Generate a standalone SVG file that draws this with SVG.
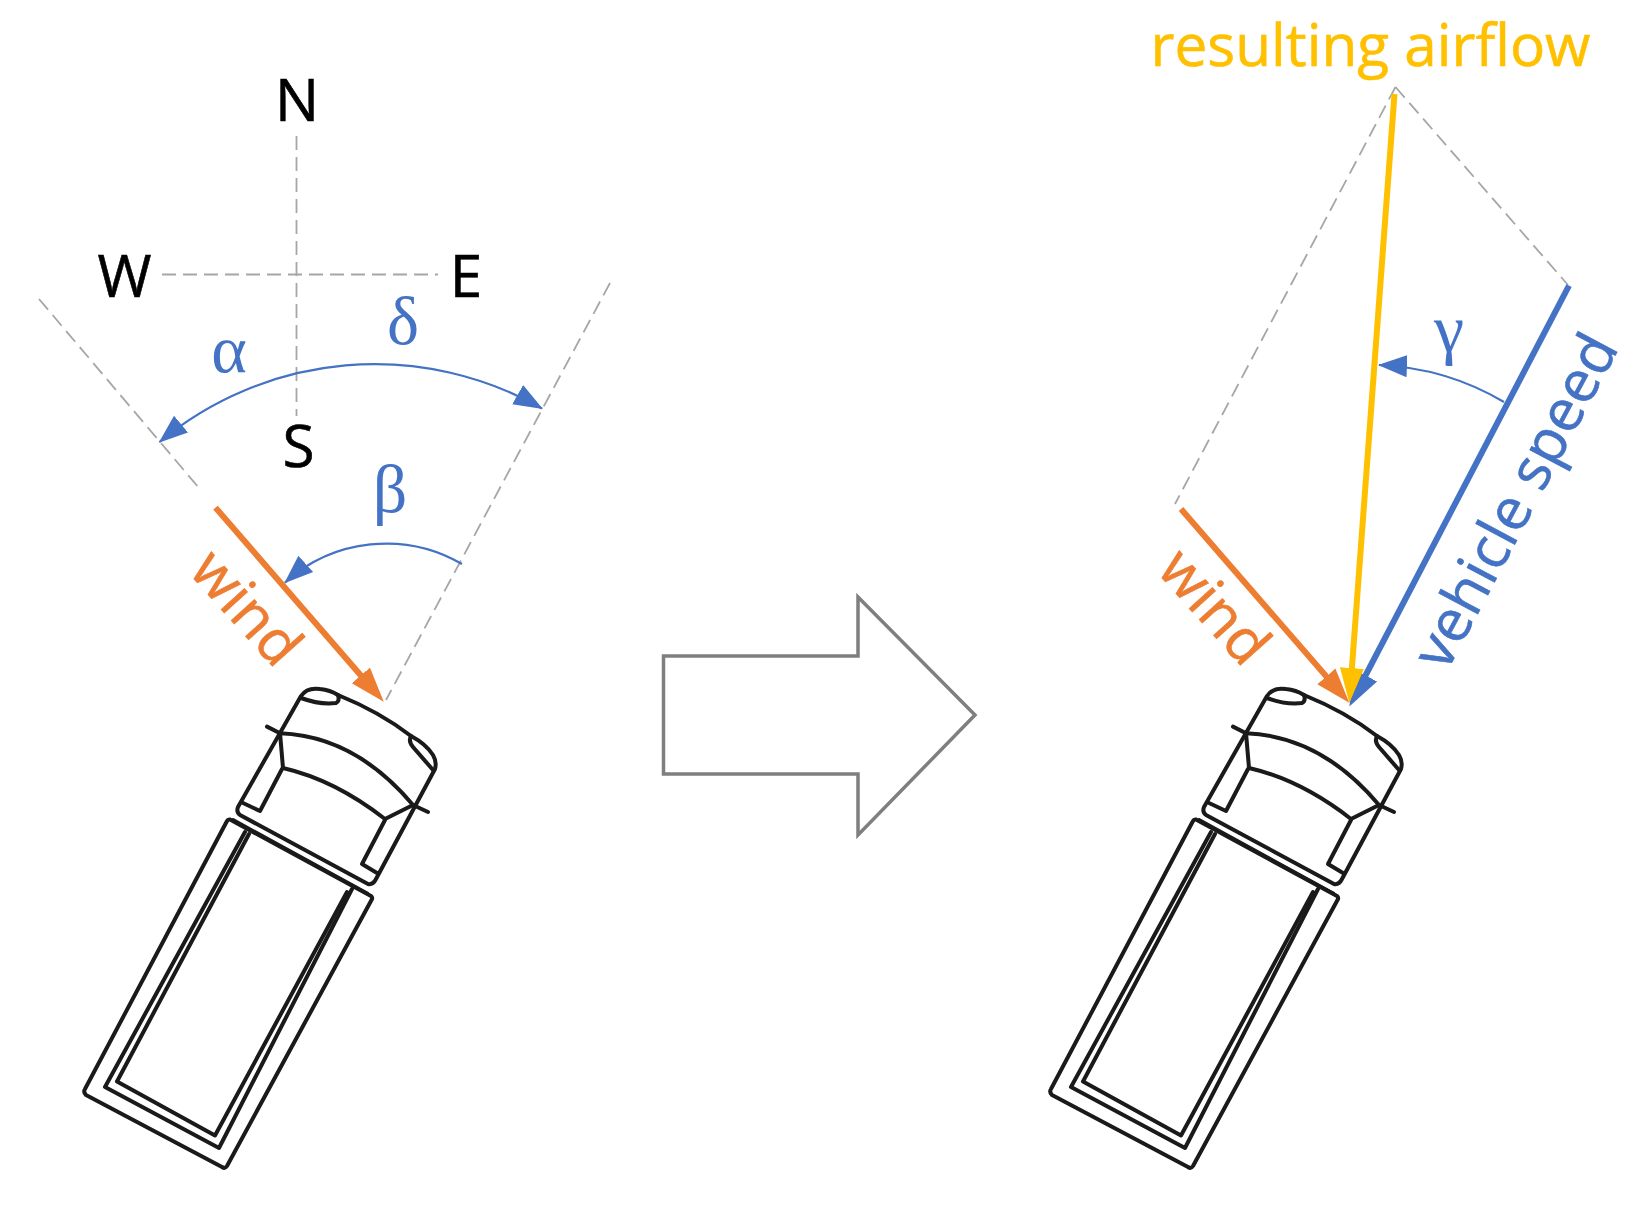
<svg xmlns="http://www.w3.org/2000/svg" xmlns:xlink="http://www.w3.org/1999/xlink" width="1639" height="1209" viewBox="0 0 1639 1209">
<style>
.lbl{font-family:"Open Sans","Noto Sans",sans-serif;font-size:58.5px;stroke-width:.6px}
.k{fill:#000;stroke:#000}
.o{fill:#ED7D31;stroke:#ED7D31}
.b{fill:#4472C4;stroke:#4472C4}
.y{fill:#FFC000;stroke:#FFC000}
.gr{font-family:"Liberation Serif",serif;font-size:68px;fill:#4472C4}
.d{stroke:#A6A6A6;stroke-width:1.8;stroke-dasharray:14 7;fill:none}
.ar{stroke:#4472C4;stroke-width:2.2;fill:none}
.t{fill:none;stroke:#1a1a1a;stroke-width:4;stroke-linejoin:round;stroke-linecap:round}
</style>
<defs>
<marker id="mo" markerUnits="userSpaceOnUse" markerWidth="36" markerHeight="26" refX="14" refY="13" orient="auto"><path d="M0 1L35 13L0 25z" fill="#ED7D31"/></marker>
<marker id="my" markerUnits="userSpaceOnUse" markerWidth="36" markerHeight="26" refX="15" refY="13" orient="auto"><path d="M0 1L35 13L0 25z" fill="#FFC000"/></marker>
<marker id="mb" markerUnits="userSpaceOnUse" markerWidth="36" markerHeight="28" refX="12" refY="14" orient="auto"><path d="M0 1L35 14L0 27z" fill="#4472C4"/></marker>
<marker id="ma" markerUnits="userSpaceOnUse" markerWidth="30" markerHeight="24" refX="28" refY="12" orient="auto-start-reverse"><path d="M0 1L29 12L0 23z" fill="#4472C4"/></marker>
<g id="truck" class="t">
<path d="M230 819.5L371 896Q373 898 371.5 900L227 1166Q225 1169 222 1167L86 1095Q83 1092 85 1089L227 821Q228 819 230 819.5z"/>
<path d="M245 832L105 1087L219 1148L352 889"/>
<path d="M249 834L117 1081.5L215 1135.5L347 892"/>
<path d="M238 807L301 696Q307 687 320 689Q330 690 338 695Q380 712 411 736Q426 744 433 755Q437 762 435 769L376 879Q373 885 368 884L240 815Q236 812 238 807z"/>
<path d="M301 698Q320 705 336 703Q340 701 338 695"/>
<path d="M411 736Q408 741 413 747L433 770"/>
<path d="M267 726.6L280 733.3Q355 736 413 805L428 812"/>
<path d="M280 733L283 768Q335 780 385 819L413 805"/>
<path d="M282 769L260 811L243 803"/>
<path d="M385 820L362 864L377 873"/>
<path d="M233 819L368 893" stroke-width="2"/>
</g>
</defs>
<rect width="1639" height="1209" fill="#fff"/>
<g id="connectors">
<path class="d" d="M296.5 136V416"/>
<path class="d" d="M162 274.5H438" stroke-width="2.5"/>
<path class="d" d="M39 299L199 488"/>
<path class="d" d="M610 283L386 700"/>
<path class="d" d="M1395.5 87L1175 504"/>
<path class="d" d="M1395.5 87L1568 285"/>
<path class="ar" d="M159.5 442A337 337 0 0 1 542 408.5" marker-start="url(#ma)" marker-end="url(#ma)"/>
<path class="ar" d="M462 564A151 151 0 0 0 285 582.6" marker-end="url(#ma)"/>
<path class="ar" d="M1504 402A268 268 0 0 0 1379 365" marker-end="url(#ma)"/>
<line x1="215.5" y1="507.6" x2="370" y2="686" stroke="#ED7D31" stroke-width="6" marker-end="url(#mo)"/>
<line x1="1569" y1="285.6" x2="1360" y2="686" stroke="#4472C4" stroke-width="6" marker-end="url(#mb)"/>
<line x1="1181" y1="509" x2="1335.5" y2="687" stroke="#ED7D31" stroke-width="6" marker-end="url(#mo)"/>
<line x1="1394.5" y1="94" x2="1350.8" y2="683" stroke="#FFC000" stroke-width="6" marker-end="url(#my)"/>
<path d="M663.5 656H858V597L975 715L858 835V774H663.5z" fill="#fff" stroke="#7F7F7F" stroke-width="3.5"/>
</g>
<g id="node-truck-left"><use href="#truck"/></g>
<g id="node-truck-right"><use href="#truck" x="966"/></g>
<g id="node-labels-compass">
<text class="lbl k" x="297" y="120.5" text-anchor="middle">N</text>
<text class="lbl k" x="124.5" y="297" text-anchor="middle">W</text>
<text class="lbl k" x="466" y="297" text-anchor="middle">E</text>
<text class="lbl k" x="298.5" y="466.5" text-anchor="middle">S</text>
</g>
<g id="node-labels-angles">
<text class="gr" x="403" y="344" text-anchor="middle">δ</text>
<text class="gr" x="229" y="372" text-anchor="middle">α</text>
<text class="gr" x="390" y="512" text-anchor="middle">β</text>
<text class="gr" x="1449" y="352" text-anchor="middle">γ</text>
</g>
<g id="node-labels-vectors">
<text class="lbl o" transform="translate(245 609) rotate(48)" y="18" text-anchor="middle">wind</text>
<text class="lbl o" transform="translate(1213 608) rotate(48)" y="18" text-anchor="middle">wind</text>
<text class="lbl b" transform="translate(1517 502) rotate(-62)" y="18" text-anchor="middle">vehicle speed</text>
<text class="lbl y" x="1370.5" y="66" text-anchor="middle">resulting airflow</text>
</g>
</svg>
